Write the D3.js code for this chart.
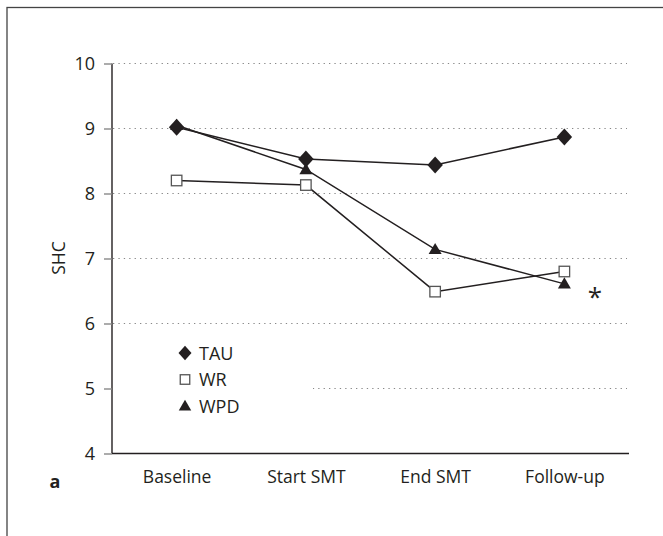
<!DOCTYPE html>
<html><head><meta charset="utf-8">
<script src="https://cdn.jsdelivr.net/npm/d3@7"></script>
<style>body{margin:0;background:#fff}svg{display:block}text{font-family:"Open Sans",sans-serif;fill:#231f20}</style>
</head><body><svg id="c" width="663" height="536"></svg>
<script>
const categories = ["Baseline","Start SMT","End SMT","Follow-up"];
const seriesNames = ["TAU","WR","WPD"];
const tauValues = [9.02, 8.53, 8.44, 8.87];
const wrValues = [8.2, 8.13, 6.49, 6.8];
const wpdValues = [9.05, 8.37, 7.14, 6.61];
const yTicks = [4,5,6,7,8,9,10];
const yLabel = "SHC";
const panelLabel = "a";
const sigMark = "*";

const svg = d3.select("#c");
const ink = "#231f20";
// outer frame
svg.append("rect").attr("x",7).attr("y",7.5).attr("width",700).attr("height",600)
  .attr("fill","none").attr("stroke","#444").attr("stroke-width",1.3);

const x = d3.scalePoint().domain(categories).range([112,629]).padding(0.5);
const y = d3.scaleLinear().domain([4,10]).range([453.5,63.5]);

// grid
svg.append("g").selectAll("line").data(yTicks.filter(t=>t>4)).join("line")
  .attr("x1",113).attr("x2",627).attr("y1",d=>y(d)).attr("y2",d=>y(d))
  .attr("stroke","#888").attr("stroke-width",1.2).attr("stroke-dasharray","1.3,4.1");

// legend background hides part of the grid
svg.append("rect").attr("x",113).attr("y",335).attr("width",200).attr("height",90).attr("fill","#fff");

// y axis
const ya = svg.append("g").attr("transform","translate(112,0)")
  .call(d3.axisLeft(y).tickValues(yTicks).tickFormat(d3.format("d")).tickSize(8).tickPadding(9));
ya.select(".domain").attr("stroke",ink).attr("stroke-width",1.4).attr("d","M0,"+y(10)+"V"+y(4));
ya.selectAll(".tick line").attr("stroke","#888").attr("stroke-width",1.4);
ya.selectAll(".tick text").style("font-size","18px").attr("fill",ink).attr("font-family","Open Sans");

// x axis
const xa = svg.append("g").attr("transform","translate(0,"+y(4)+")")
  .call(d3.axisBottom(x).tickSize(0).tickPadding(17));
xa.select(".domain").attr("stroke",ink).attr("stroke-width",1.4).attr("d","M112,0H629");
xa.selectAll(".tick text").style("font-size","17.5px").attr("fill",ink).attr("font-family","Open Sans");

// y label
svg.append("text").attr("transform","translate(65,258) rotate(-90)").attr("text-anchor","middle")
  .style("font-size","17.5px").text(yLabel);
svg.append("text").attr("x",55).attr("y",488).attr("text-anchor","middle")
  .style("font-size","18px").style("font-weight","bold").text(panelLabel);

const series = [
  {name:seriesNames[0], values:tauValues, shape:"diamond"},
  {name:seriesNames[1], values:wrValues, shape:"square"},
  {name:seriesNames[2], values:wpdValues, shape:"triangle"}
];
const line = d3.line().x((d,i)=>x(categories[i])).y(d=>y(d));
function marker(g, shape, cx, cy, s){
  if(shape==="diamond"){
    g.append("path").attr("d",`M${cx},${cy-s*0.55}L${cx+s*0.5},${cy}L${cx},${cy+s*0.55}L${cx-s*0.5},${cy}Z`).attr("fill",ink);
  } else if(shape==="square"){
    const h=s*0.5;
    g.append("rect").attr("x",cx-h).attr("y",cy-h).attr("width",2*h).attr("height",2*h)
      .attr("fill","#fff").attr("stroke","#555").attr("stroke-width",1.3);
  } else {
    g.append("path").attr("d",`M${cx},${cy-s*0.5}L${cx+s*0.5},${cy+s*0.36}L${cx-s*0.5},${cy+s*0.36}Z`).attr("fill",ink);
  }
}
const sizes = {diamond:15.5, square:10.5, triangle:13};
const legendSizes = {diamond:13, square:9.5, triangle:12.5};
series.forEach(s=>{
  svg.append("path").datum(s.values).attr("d",line).attr("fill","none").attr("stroke",ink).attr("stroke-width",1.5);
});
const mg = svg.append("g");
[series[1],series[2],series[0]].forEach(s=>{
  s.values.forEach((v,i)=>marker(mg,s.shape,x(categories[i]),y(v),sizes[s.shape]));
});

// legend
const lg = svg.append("g");
series.forEach((s,i)=>{
  const cy = 353 + i*26.5;
  marker(lg, s.shape, 185, cy, legendSizes[s.shape]);
  lg.append("text").attr("x",199).attr("y",cy+6.5).style("font-size","18px").text(s.name);
});

// significance mark
svg.append("text").attr("x",595).attr("y",306).attr("text-anchor","middle").style("font-size","26px").text(sigMark);
</script></body></html>
